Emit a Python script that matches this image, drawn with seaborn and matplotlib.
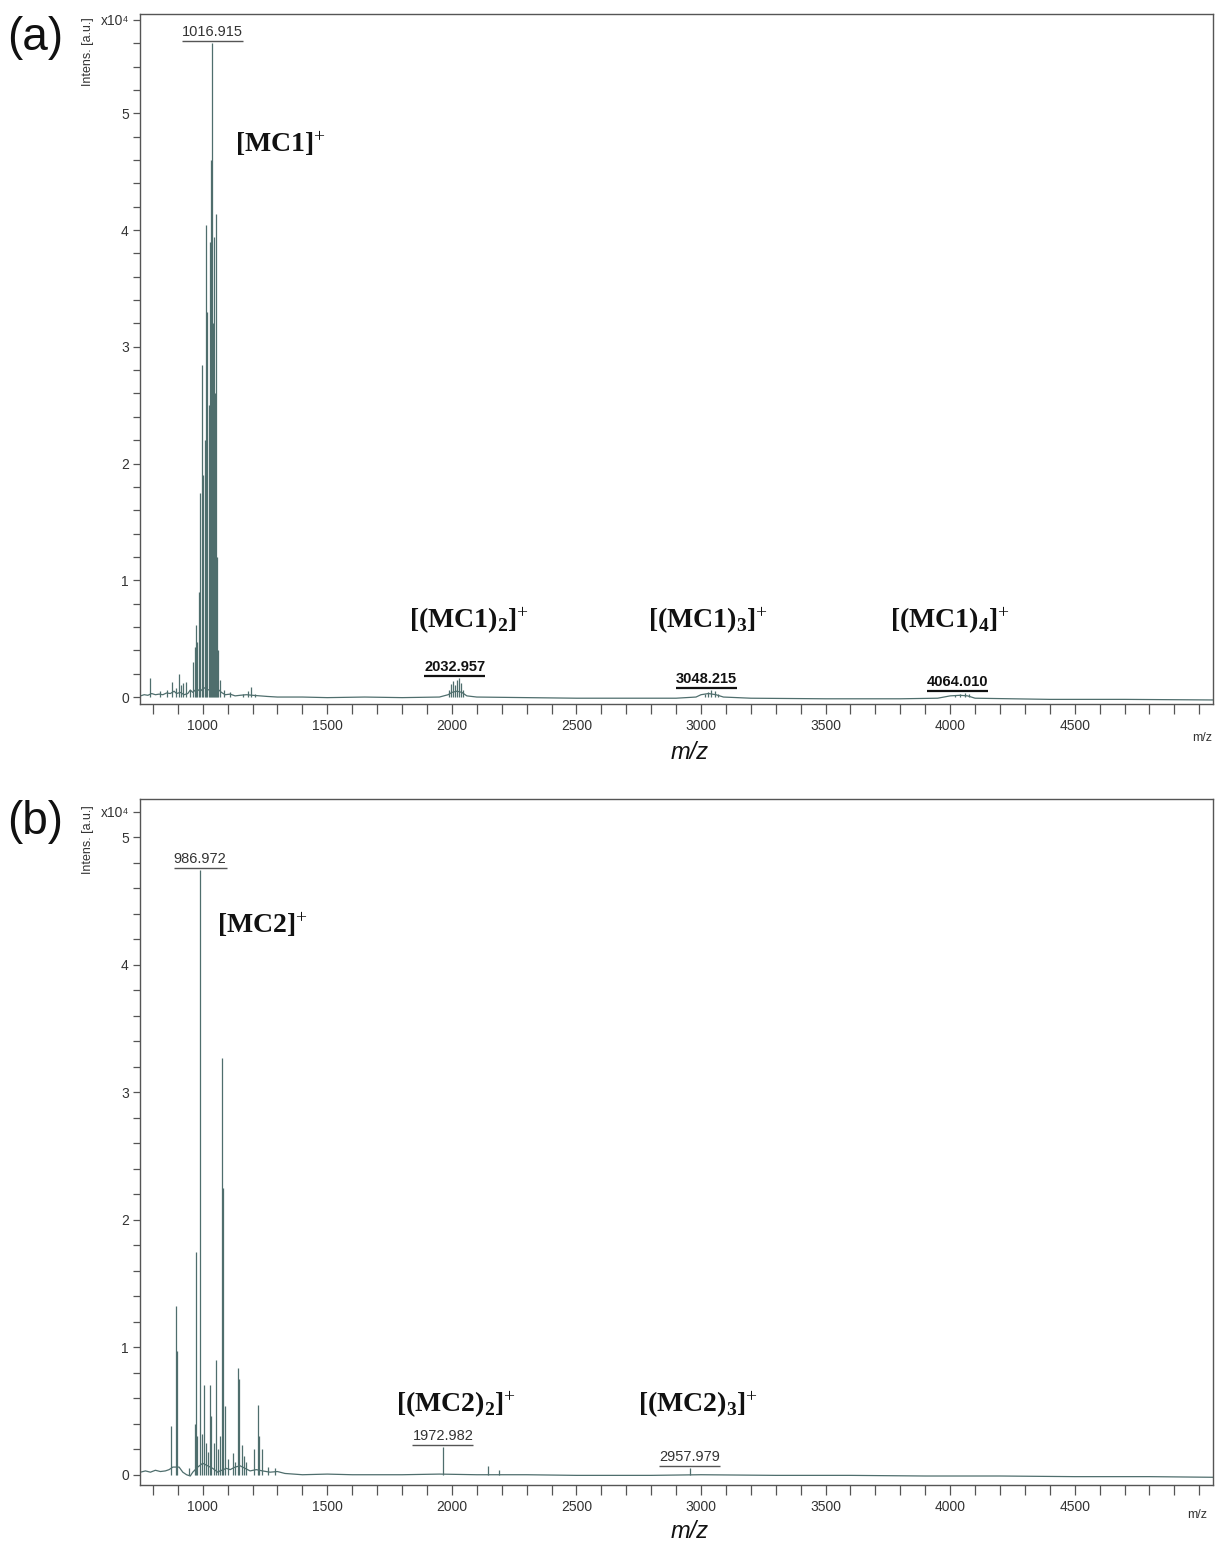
import numpy as np
import pandas as pd
import matplotlib
matplotlib.use("Agg")
import matplotlib.pyplot as plt
import seaborn as sns
from matplotlib.ticker import FixedLocator, MultipleLocator

# ---------------- data (intensity in units of 1e4 a.u.) ----------------
# Panel (a): MC1 spectrum
a_base_mz = [750, 765, 780, 795, 810, 825, 840, 855, 870, 885, 895, 910, 925, 940, 950, 960,
             975, 990, 1005, 1020, 1035, 1050, 1065, 1075, 1090, 1110, 1130, 1150, 1175, 1200,
             1230, 1260, 1300, 1400, 1500, 1650, 1800, 1950, 1985, 2000, 2020, 2040, 2060, 2100,
             2300, 2500, 2700, 2900, 2980, 3000, 3030, 3060, 3090, 3200, 3500, 3800, 3950, 4000,
             4040, 4070, 4100, 4400, 4700, 5055]
a_base_int = [0.01, 0.02, 0.015, 0.03, 0.02, 0.025, 0.02, 0.035, 0.03, 0.05, 0.03, 0.04, 0.02,
              0.03, 0.06, 0.04, 0.07, 0.05, 0.08, 0.06, 0.07, 0.05, 0.06, 0.04, 0.02, 0.025, 0.01,
              0.015, 0.02, 0.015, 0.01, 0.005, 0.0, 0.0, -0.005, 0.0, -0.005, 0.0, 0.02, 0.04,
              0.05, 0.04, 0.01, 0.0, -0.005, -0.01, -0.01, -0.01, 0.0, 0.02, 0.03, 0.02, 0.0,
              -0.01, -0.015, -0.015, -0.01, 0.01, 0.015, 0.01, -0.01, -0.02, -0.02, -0.025]
a_peak_mz = [787, 830, 858, 878, 891, 903, 913, 920, 934, 948, 962, 967, 971, 976, 983, 990,
             998, 1003, 1008, 1014, 1019, 1024, 1029, 1034, 1038, 1042, 1047, 1051, 1055, 1059,
             1063, 1070, 1085, 1110, 1160, 1181, 1194, 1210,
             1990, 1998, 2006, 2014, 2022, 2030, 2038, 2046,
             3015, 3030, 3042, 3055, 3070,
             4020, 4040, 4058, 4075]
a_peak_int = [0.165, 0.05, 0.06, 0.13, 0.08, 0.20, 0.10, 0.12, 0.13, 0.06, 0.30, 0.43, 0.62,
              0.47, 0.90, 1.75, 2.84, 1.90, 2.20, 4.04, 3.30, 2.50, 3.90, 4.60, 5.60, 3.20,
              3.94, 2.60, 4.14, 1.20, 0.40, 0.15, 0.06, 0.04, 0.03, 0.05, 0.09, 0.03,
              0.06, 0.11, 0.14, 0.10, 0.15, 0.16, 0.12, 0.06,
              0.03, 0.045, 0.06, 0.05, 0.03,
              0.02, 0.03, 0.035, 0.025]
a_label_text = ["1016.915", "2032.957", "3048.215", "4064.010"]
a_label_mz = [1038, 2011, 3022, 4030]
a_ion_text = [r"[MC1]$^{+}$", r"[(MC1)$_{\mathbf{2}}$]$^{+}$",
              r"[(MC1)$_{\mathbf{3}}$]$^{+}$", r"[(MC1)$_{\mathbf{4}}$]$^{+}$"]

# Panel (b): MC2 spectrum
b_base_mz = [750, 770, 790, 810, 830, 850, 865, 880, 905, 920, 935, 950, 960, 980, 1000, 1020,
             1040, 1060, 1070, 1095, 1110, 1130, 1150, 1170, 1190, 1215, 1240, 1270, 1300, 1330,
             1400, 1500, 1600, 1800, 1950, 2100, 2300, 2500, 2800, 3000, 3300, 3600, 3900, 4200,
             4500, 4800, 5055]
b_base_int = [0.02, 0.03, 0.02, 0.035, 0.025, 0.03, 0.04, 0.06, 0.06, 0.02, 0.0, -0.01, 0.02,
              0.06, 0.09, 0.07, 0.05, 0.02, 0.03, 0.05, 0.04, 0.06, 0.07, 0.05, 0.03, 0.04,
              0.03, 0.02, 0.025, 0.01, 0.0, 0.005, 0.0, 0.0, 0.005, 0.0, 0.0, -0.005, -0.005,
              0.0, -0.005, -0.005, -0.01, -0.01, -0.015, -0.015, -0.02]
b_peak_mz = [874, 893, 897, 943, 968, 972, 978, 990, 996, 1004, 1012, 1020, 1031, 1035, 1047,
             1054, 1062, 1071, 1076, 1080, 1090, 1100, 1120, 1128, 1142, 1146, 1158, 1165, 1175,
             1204, 1222, 1226, 1238, 1260, 1291, 1964, 2146, 2190, 2955]
b_peak_int = [0.38, 1.32, 0.97, 0.05, 0.40, 1.75, 0.30, 4.74, 0.32, 0.70, 0.25, 0.18, 0.70,
              0.46, 0.25, 0.90, 0.20, 0.30, 3.27, 2.25, 0.54, 0.12, 0.17, 0.10, 0.84, 0.75,
              0.23, 0.15, 0.10, 0.20, 0.55, 0.30, 0.20, 0.06, 0.05, 0.22, 0.07, 0.04, 0.05]
b_label_text = ["986.972", "1972.982", "2957.979"]
b_label_mz = [990, 1964, 2955]
b_ion_text = [r"[MC2]$^{+}$", r"[(MC2)$_{\mathbf{2}}$]$^{+}$", r"[(MC2)$_{\mathbf{3}}$]$^{+}$"]

x_ticks = [1000, 1500, 2000, 2500, 3000, 3500, 4000, 4500]
y_ticks = [0, 1, 2, 3, 4, 5]

# ---------------- style ----------------
sns.set_theme(style="ticks")
plt.rcParams["font.family"] = ["Liberation Sans", "DejaVu Sans"]
plt.rcParams["mathtext.fontset"] = "custom"
plt.rcParams["mathtext.rm"] = "Liberation Serif"
plt.rcParams["mathtext.bf"] = "Liberation Serif:bold"
plt.rcParams["mathtext.it"] = "Liberation Serif:italic"

line_c = "#4f6e6d"
spine_c = "#555555"
text_c = "#333333"

fig = plt.figure(figsize=(12.17, 15.46), dpi=100)
axA = fig.add_axes([0.115, 0.5446, 0.8817, 0.4463])
axB = fig.add_axes([0.115, 0.0395, 0.8817, 0.4437])


def draw_spectrum(ax, base_mz, base_int, peak_mz, peak_int):
    df = pd.DataFrame({"mz": base_mz, "intensity": base_int})
    sns.lineplot(data=df, x="mz", y="intensity", ax=ax, color=line_c, lw=0.9,
                 estimator=None, sort=True)
    ax.vlines(peak_mz, 0, peak_int, color=line_c, lw=0.9)


def style_axes(ax, ymin, ymax, top_tick):
    ax.set_xlim(748, 5055)
    ax.set_ylim(ymin, ymax)
    ax.xaxis.set_major_locator(FixedLocator(x_ticks))
    ax.set_xticklabels([str(t) for t in x_ticks])
    ax.xaxis.set_minor_locator(MultipleLocator(100))
    ax.yaxis.set_major_locator(FixedLocator(y_ticks + [top_tick]))
    ax.set_yticklabels([str(t) for t in y_ticks] + ["x10⁴"])
    ax.yaxis.set_minor_locator(MultipleLocator(0.2))
    ax.tick_params(which="both", direction="out", color=spine_c, width=0.9,
                   labelcolor=text_c, labelsize=10)
    ax.tick_params(axis="x", which="both", length=7, pad=4)
    ax.tick_params(axis="y", which="both", length=5, pad=3)
    for s in ax.spines.values():
        s.set_color(spine_c)
        s.set_linewidth(1.0)
    ax.set_xlabel("")
    ax.set_ylabel("")


def peak_labels(ax, label_mz, label_text, peak_mz, peak_int, bold, pad):
    pm = np.array(peak_mz)
    pi = np.array(peak_int)
    out = []
    for mz, txt in zip(label_mz, label_text):
        h = pi[np.abs(pm - mz) < 45].max()
        y = h + pad
        t = ax.annotate(txt, (mz, y), xytext=(0, 1.5), textcoords="offset points",
                        ha="center", va="bottom", fontsize=10.5,
                        fontweight="bold" if bold else "normal",
                        color="#111111" if bold else text_c)
        out.append((t, y, bold))
    return out


draw_spectrum(axA, a_base_mz, a_base_int, a_peak_mz, a_peak_int)
draw_spectrum(axB, b_base_mz, b_base_int, b_peak_mz, b_peak_int)
style_axes(axA, -0.06, 5.85, 5.8)
style_axes(axB, -0.08, 5.30, 5.2)

labsA = peak_labels(axA, a_label_mz[:1], a_label_text[:1], a_peak_mz, a_peak_int, False, 0.02)
labsA += peak_labels(axA, a_label_mz[1:], a_label_text[1:], a_peak_mz, a_peak_int, True, 0.02)
labsB = peak_labels(axB, b_label_mz, b_label_text, b_peak_mz, b_peak_int, False, 0.015)

# ion annotations
ion_kw = dict(fontsize=20, fontweight="bold", family="Liberation Serif", color="#111111",
              ha="left", va="baseline")
for txt, (x, y) in zip(a_ion_text, [(1131, 4.67), (1827, 0.59), (2787, 0.59), (3758, 0.59)]):
    axA.text(x, y, txt, **ion_kw)
for txt, (x, y) in zip(b_ion_text, [(1059, 4.25), (1776, 0.49), (2746, 0.49)]):
    axB.text(x, y, txt, **ion_kw)

# figure-level texts
W, H = 1217, 1546
fig.text(35 / W, 1 - 38 / H, "(a)", fontsize=33, ha="center", va="center", color="#111111")
fig.text(35 / W, 1 - 822 / H, "(b)", fontsize=33, ha="center", va="center", color="#111111")
fig.text(88 / W, 1 - 52 / H, "Intens. [a.u.]", fontsize=9, rotation=90, ha="center",
         va="center", color=text_c)
fig.text(88 / W, 1 - 840 / H, "Intens. [a.u.]", fontsize=9, rotation=90, ha="center",
         va="center", color=text_c)
fig.text(690 / W, 1 - 752 / H, "m/z", fontsize=17, style="italic", ha="center", va="center",
         color="#111111")
fig.text(690 / W, 1 - 1532 / H, "m/z", fontsize=17, style="italic", ha="center", va="center",
         color="#111111")
fig.text(1202 / W, 1 - 738 / H, "m/z", fontsize=9, ha="center", va="center", color=text_c)
fig.text(1197 / W, 1 - 1515 / H, "m/z", fontsize=9, ha="center", va="center", color=text_c)

# underline peak labels using rendered text extents
fig.canvas.draw()
renderer = fig.canvas.get_renderer()
for ax, labs in [(axA, labsA), (axB, labsB)]:
    inv = ax.transData.inverted()
    for t, y, bold in labs:
        bb = t.get_window_extent(renderer)
        (x0, _), (x1, _) = inv.transform([(bb.x0, bb.y0), (bb.x1, bb.y0)])
        ax.hlines(y, x0, x1, color="#111111" if bold else "#555555",
                  lw=1.6 if bold else 1.0)

fig.savefig("out.png", dpi=100, facecolor="white")
